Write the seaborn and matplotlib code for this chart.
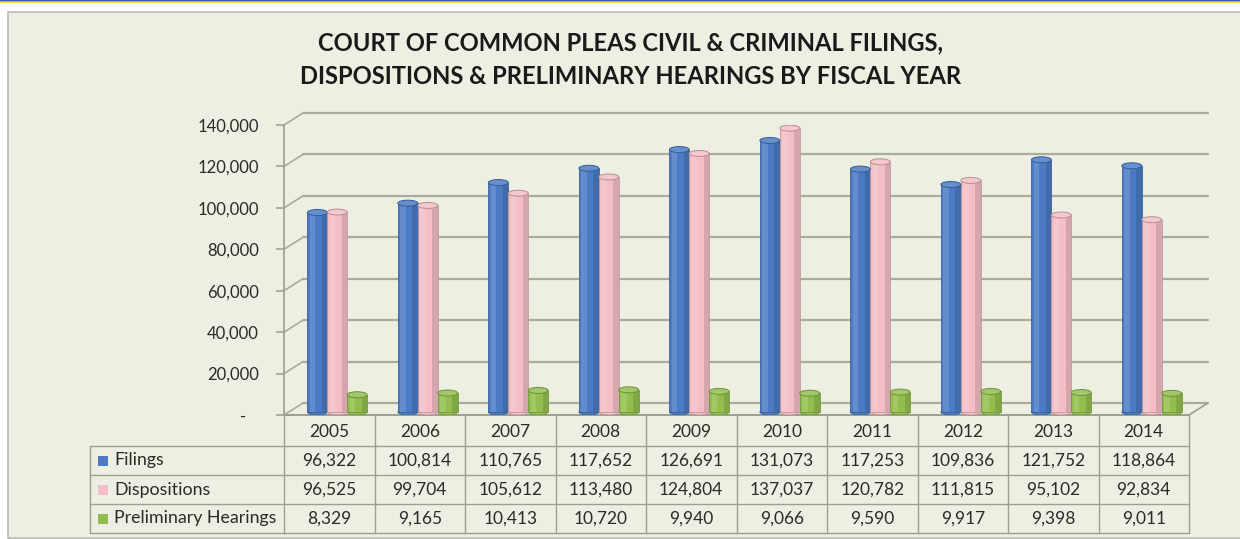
import matplotlib
matplotlib.use("Agg")
import matplotlib.pyplot as plt
from matplotlib import font_manager, transforms
from matplotlib.colors import to_rgb
from matplotlib.lines import Line2D
from matplotlib.patches import Ellipse, Rectangle
import numpy as np
import pandas as pd
import seaborn as sns

years = ["2005", "2006", "2007", "2008", "2009", "2010", "2011", "2012", "2013", "2014"]
filings = [96322, 100814, 110765, 117652, 126691, 131073, 117253, 109836, 121752, 118864]
dispositions = [96525, 99704, 105612, 113480, 124804, 137037, 120782, 111815, 95102, 92834]
prelim_hearings = [8329, 9165, 10413, 10720, 9940, 9066, 9590, 9917, 9398, 9011]
series_names = ["Filings", "Dispositions", "Preliminary Hearings"]
series_colors = ["#4A7BC4", "#F3BEC5", "#93BE4E"]
y_ticks = [0, 20000, 40000, 60000, 80000, 100000, 120000, 140000]
title_lines = [
    "COURT OF COMMON PLEAS CIVIL & CRIMINAL FILINGS,",
    "DISPOSITIONS & PRELIMINARY HEARINGS BY FISCAL YEAR",
]

W, H = 1240, 539
BG = "#ECEFE1"
GRID = "#A9AB9C"
LINE = "#9C9E92"
TXT = "#2B2B2B"


def fx(px):
    return px / W


def fy(px):
    return 1 - px / H


def shade(color, k):
    r, g, b = to_rgb(color)
    if k < 0:
        return (r * (1 + k), g * (1 + k), b * (1 + k))
    return (r + (1 - r) * k, g + (1 - g) * k, b + (1 - b) * k)


sns.set_theme(style="white")
plt.rcParams["font.family"] = ["Lato", "DejaVu Sans"]
installed = {f.name for f in font_manager.fontManager.ttflist}
title_font = ["Liberation Sans Narrow", "Lato"] if "Liberation Sans Narrow" in installed else ["Lato"]

df = pd.DataFrame({
    "year": years * 3,
    "series": np.repeat(series_names, len(years)),
    "value": filings + dispositions + prelim_hearings,
})

fig = plt.figure(figsize=(W / 100, H / 100), dpi=100, facecolor="white")

# panel and the thin band along the top edge
fig.patches.append(Rectangle((fx(8), fy(538)), 1, (538 - 12) / H, transform=fig.transFigure,
                             facecolor=BG, edgecolor="#B9BCB0", lw=1.2, zorder=-5))
fig.add_artist(Line2D([0, 1], [fy(0.6)] * 2, color="#2448B8", lw=1.3, zorder=5))
fig.add_artist(Line2D([0, 1], [fy(2.3)] * 2, color="#F0D400", lw=1.1, zorder=5))

ax = fig.add_axes([fx(284), fy(415), (1189 - 284) / W, (415 - 125) / H])
ax.patch.set_alpha(0)
sns.barplot(data=df, x="year", y="value", hue="series", palette=series_colors,
            width=0.66, saturation=1, legend=False, ax=ax, zorder=3)
ax.set_xlim(-0.5, len(years) - 0.5)
ax.set_ylim(0, y_ticks[-1])
ax.set_xlabel("")
ax.set_ylabel("")

# pseudo-3d depth
px_x = (len(years)) / (1189 - 284)
px_y = y_ticks[-1] / (415 - 125)
back_dx, back_dy = 19, 12
back = ax.transData + transforms.ScaledTranslation(back_dx / 100, back_dy / 100, fig.dpi_scale_trans)

for t in y_ticks:
    ax.plot([-0.5, len(years) - 0.5], [t, t], transform=back, color=GRID, lw=1.6, clip_on=False, zorder=1)
    ax.plot([-0.5, -0.5 + back_dx * px_x], [t, t + back_dy * px_y], color=GRID, lw=1.2, clip_on=False, zorder=1)
# floor
ax.plot([len(years) - 0.5, len(years) - 0.5 + back_dx * px_x], [0, back_dy * px_y],
        color=LINE, lw=1.2, clip_on=False, zorder=1)
ax.plot([-0.5, len(years) - 0.5], [0, 0], color=LINE, lw=1.4, clip_on=False, zorder=2)

for side in ["top", "right", "bottom"]:
    ax.spines[side].set_visible(False)
ax.spines["left"].set_color(LINE)
ax.spines["left"].set_linewidth(1.2)
ax.set_yticks(y_ticks)
ax.set_yticklabels(["-   " if t == 0 else f"{t:,}" for t in y_ticks])
ax.tick_params(axis="y", left=True, length=6, width=1.1, color=LINE, pad=12,
               labelsize=12, labelcolor=TXT)
ax.tick_params(axis="x", bottom=False, labelbottom=False)

# cylinders: shift bars back a little and add caps
bar_shift = ax.transData + transforms.ScaledTranslation(8 / 100, 3 / 100, fig.dpi_scale_trans)
cap_h = 6 * px_y
for p in list(ax.patches):
    fc = p.get_facecolor()
    x, w, h = p.get_x(), p.get_width(), p.get_height()
    p.set_transform(bar_shift)
    p.set_edgecolor(shade(fc, -0.2))
    p.set_linewidth(0.6)
    ax.add_patch(Ellipse((x + w / 2, 0), w, cap_h, transform=bar_shift, facecolor=fc,
                         edgecolor=shade(fc, -0.2), lw=0.6, zorder=2.9))
    ax.add_patch(Rectangle((x + 0.12 * w, 0), 0.28 * w, h, transform=bar_shift,
                           facecolor="white", alpha=0.14, lw=0, zorder=3.1))
    ax.add_patch(Rectangle((x + 0.72 * w, 0), 0.28 * w, h, transform=bar_shift,
                           facecolor="black", alpha=0.12, lw=0, zorder=3.1))
    ax.add_patch(Ellipse((x + w / 2, h), w, cap_h, transform=bar_shift, facecolor=shade(fc, 0.15),
                         edgecolor=shade(fc, -0.25), lw=0.7, zorder=3.2))

# data table below the plot
tt = transforms.blended_transform_factory(ax.transData, fig.transFigure)
row_edges = [446, 475, 504, 533]
for i in range(len(years) + 1):
    ax.plot([i - 0.5, i - 0.5], [fy(415), fy(533)], transform=tt, color=LINE, lw=1.0, clip_on=False)
for r in row_edges:
    ax.plot([-0.5, len(years) - 0.5], [fy(r), fy(r)], transform=tt, color=LINE, lw=1.0, clip_on=False)
    fig.add_artist(Line2D([fx(90), fx(284)], [fy(r), fy(r)], color=LINE, lw=1.0))
fig.add_artist(Line2D([fx(90), fx(90)], [fy(446), fy(533)], color=LINE, lw=1.0))

for i, yr in enumerate(years):
    ax.text(i, fy(432), yr, transform=tt, ha="center", va="center", fontsize=12.5, color=TXT)

table_rows = [filings, dispositions, prelim_hearings]
for k, (name, vals, col) in enumerate(zip(series_names, table_rows, series_colors)):
    yc = fy((row_edges[k] + row_edges[k + 1]) / 2)
    fig.patches.append(Rectangle((fx(98), yc - 5 / H), 10 / W, 10 / H, transform=fig.transFigure,
                                 facecolor=col, lw=0))
    fig.text(fx(114), yc, name, ha="left", va="center", fontsize=12.8, color=TXT)
    for i, v in enumerate(vals):
        ax.text(i, yc, f"{v:,}", transform=tt, ha="center", va="center", fontsize=12.5, color=TXT)

# title, sized so the second line spans the same width as the original
titles = []
for line, ypx in zip(title_lines, [43, 77]):
    titles.append(fig.text(fx(631), fy(ypx), line, ha="center", va="center", fontsize=17,
                           fontweight="bold", color="#1A1A1A", family=title_font))
fig.canvas.draw()
width = titles[1].get_window_extent().width
for t in titles:
    t.set_fontsize(17 * 663 / width)

fig.savefig("out.png", dpi=100, facecolor="white")
